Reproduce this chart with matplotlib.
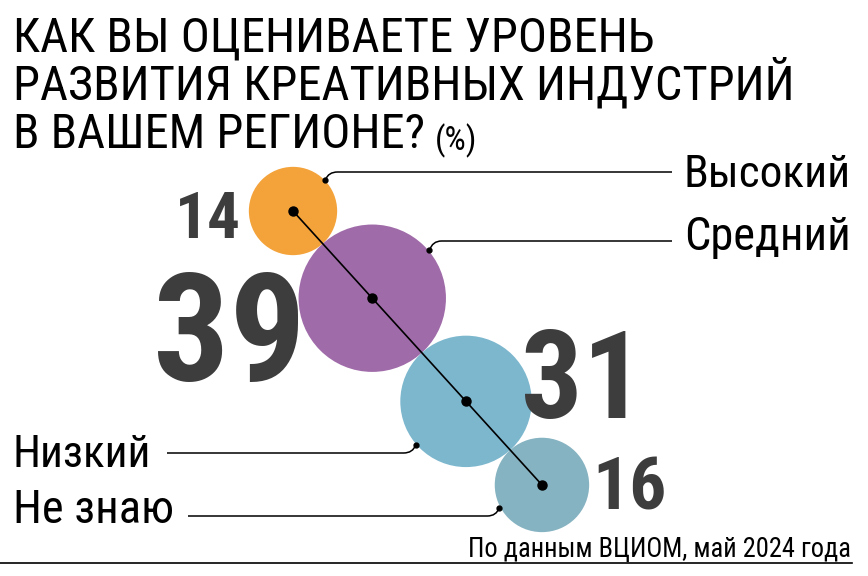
import matplotlib
matplotlib.use("Agg")
import matplotlib.pyplot as plt
from matplotlib import font_manager
from matplotlib.patches import Circle, PathPatch
from matplotlib.path import Path
import numpy as np

# данные опроса
categories = ["Высокий", "Средний", "Низкий", "Не знаю"]
values = [14, 39, 31, 16]
colors = ["#F4A33B", "#A06BA9", "#7CB7CE", "#86B3C1"]
title_lines = ["КАК ВЫ ОЦЕНИВАЕТЕ УРОВЕНЬ",
               "РАЗВИТИЯ КРЕАТИВНЫХ ИНДУСТРИЙ",
               "В ВАШЕМ РЕГИОНЕ?"]
unit = "(%)"
source = "По данным ВЦИОМ, май 2024 года"

# шрифт: узкий, если есть
installed = {f.name for f in font_manager.fontManager.ttflist}
narrow = [f for f in ["Roboto Condensed", "Liberation Sans Narrow", "DejaVu Sans Condensed"]
          if f in installed]
plt.rcParams["font.family"] = narrow + ["Liberation Sans", "DejaVu Sans"]
CAP = 0.71  # доля кегля, занимаемая прописной буквой

fig = plt.figure(figsize=(8.68, 5.76), dpi=100)
ax = fig.add_axes([0, 0, 1, 1])
ax.set_xlim(0, 868)
ax.set_ylim(576, 0)
ax.axis("off")
fig.canvas.draw()
renderer = fig.canvas.get_renderer()


def put(x, y, s, width, cap, ha="left", weight="normal", color="black", mix=False):
    t = ax.text(x, y, s, ha=ha, va="baseline", fontsize=10,
                fontweight=weight, color=color)
    w = t.get_window_extent(renderer).width
    by_w, by_h = 10 * width / w, cap / CAP * 0.72
    t.set_fontsize(np.sqrt(by_w * by_h) if mix else min(by_w, by_h))
    return t


# круги: площадь ~ значению, касаются друг друга по диагонали
k = 11.8
radii = k * np.sqrt(values)
u = np.array([0.6726, 0.7401])
centers = [np.array([293.0, 211.0])]
for i in range(1, len(values)):
    centers.append(centers[-1] + u * (radii[i - 1] + radii[i]))

for c, r, col in zip(centers, radii, colors):
    ax.add_patch(Circle(c, r, facecolor=col, edgecolor="none", zorder=1))

cx = [c[0] for c in centers]
cy = [c[1] for c in centers]
ax.plot([cx[0], cx[-1]], [cy[0], cy[-1]], color="black", lw=1.2, zorder=3)
ax.plot(cx, cy, "o", color="black", ms=6.5, zorder=4)

# выноски: угол точки на окружности, высота полки, конец полки, сторона
leaders = [(-44, 172, 672, 1), (-40, 241, 672, 1), (139, 453, 167, -1), (152, 516, 188, -1)]
for c, r, (ang, ly, xend, side) in zip(centers, radii, leaders):
    a = np.radians(ang)
    px, py = c[0] + (r + 1) * np.cos(a), c[1] + (r + 1) * np.sin(a)
    verts = [(px, py), (px + side * 3, ly), (px + side * 12, ly), (xend, ly)]
    codes = [Path.MOVETO, Path.CURVE3, Path.CURVE3, Path.LINETO]
    ax.add_patch(PathPatch(Path(verts, codes), facecolor="none", edgecolor="black",
                           lw=1.1, zorder=3))
    ax.plot(px, py, "o", color="black", ms=3.5, zorder=4)

# подписи категорий
put(851, 187, categories[0], 168, 34, ha="right")
put(851, 250, categories[1], 168, 33, ha="right")
put(13, 467, categories[2], 139, 34)
put(13, 523, categories[3], 160, 34)

# значения
num = "#3D3D3D"
put(241, 238, str(values[0]), 58, 53, ha="right", weight="bold", color=num, mix=True)
put(306, 381, str(values[1]), 145, 114, ha="right", weight="bold", color=num, mix=True)
put(521, 418, str(values[2]), 106, 102, weight="bold", color=num, mix=True)
put(592, 510, str(values[3]), 67, 58, weight="bold", color=num, mix=True)

# заголовок
tl = [put(13, y, s, w, 36) for y, s, w in zip([52, 100, 148], title_lines, [656, 780, 432])]
fs = min(t.get_fontsize() for t in tl)
for t in tl:
    t.set_fontsize(fs)
x_end = ax.transData.inverted().transform(tl[2].get_window_extent(renderer))[1][0]
put(x_end + 10, 150, unit, 42, 24, mix=True)

# источник
put(851, 557, source, 384, 19, ha="right")
ax.plot([0, 852], [563, 563], color="black", lw=1.2)

fig.savefig("out.png", dpi=100)
